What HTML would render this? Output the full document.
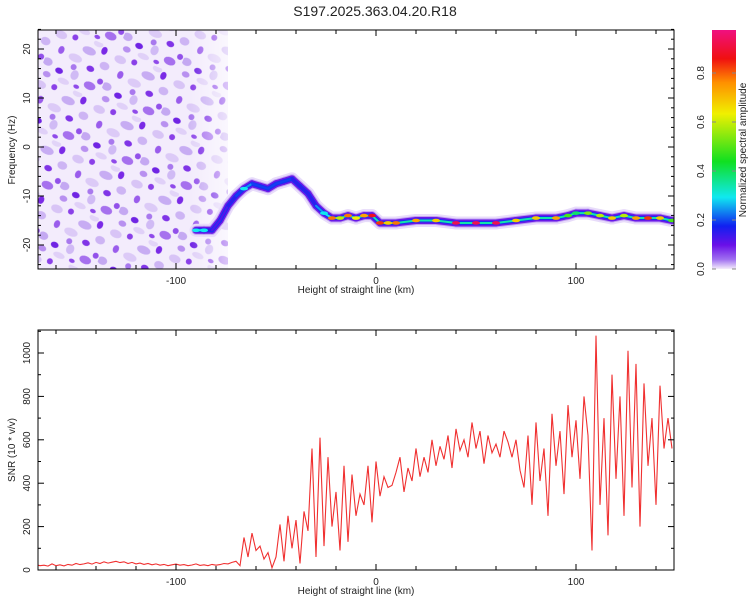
<!DOCTYPE html>
<html><head><meta charset="utf-8">
<style>
body{margin:0;background:#fff;font-family:"Liberation Sans",sans-serif;}
svg text{font-family:"Liberation Sans",sans-serif;fill:#222;}
</style></head>
<body>
<svg id="s" width="750" height="600" viewBox="0 0 750 600">
<defs>
<linearGradient id="cb" x1="0" y1="1" x2="0" y2="0">
<stop offset="0" stop-color="#f4ecfb"/><stop offset="0.04" stop-color="#a070f0"/>
<stop offset="0.1" stop-color="#6a10e8"/><stop offset="0.18" stop-color="#1020f0"/>
<stop offset="0.3" stop-color="#10e8f0"/><stop offset="0.45" stop-color="#10e020"/>
<stop offset="0.65" stop-color="#f0f000"/><stop offset="0.78" stop-color="#ff9000"/>
<stop offset="0.88" stop-color="#f01010"/><stop offset="1" stop-color="#f01080"/>
</linearGradient>
<pattern id="noise" width="64" height="54" patternUnits="userSpaceOnUse" patternTransform="rotate(23)">
<rect width="64" height="54" fill="#f3ecfc"/>
<ellipse cx="6" cy="8" rx="6" ry="4" fill="#d8c4f6"/><ellipse cx="20" cy="5" rx="3" ry="3" fill="#8a40e8"/>
<ellipse cx="38" cy="12" rx="7" ry="4" fill="#c7acf3"/><ellipse cx="52" cy="6" rx="3" ry="4" fill="#7a2ae6"/>
<ellipse cx="12" cy="22" rx="3" ry="4" fill="#9a5cec"/><ellipse cx="28" cy="24" rx="7" ry="4" fill="#dccaf7"/>
<ellipse cx="46" cy="28" rx="4" ry="3" fill="#8034e7"/><ellipse cx="58" cy="20" rx="5" ry="4" fill="#cdb4f4"/>
<ellipse cx="4" cy="38" rx="5" ry="4" fill="#c4a8f2"/><ellipse cx="18" cy="42" rx="4" ry="3" fill="#7024e4"/>
<ellipse cx="34" cy="40" rx="4" ry="5" fill="#d0baf5"/><ellipse cx="52" cy="44" rx="6" ry="4" fill="#a670ee"/>
<ellipse cx="26" cy="50" rx="6" ry="3" fill="#e0d0f8"/><ellipse cx="44" cy="2" rx="5" ry="3" fill="#e2d4f8"/>
<ellipse cx="60" cy="36" rx="3" ry="3" fill="#9250ea"/><ellipse cx="30" cy="33" rx="3" ry="3" fill="#a878ee"/>
<ellipse cx="40" cy="50" rx="3" ry="2" fill="#8f4aea"/><ellipse cx="8" cy="50" rx="4" ry="3" fill="#b890f0"/>
</pattern>
<linearGradient id="fade" x1="0" y1="0" x2="1" y2="0">
<stop offset="0" stop-color="#fff" stop-opacity="0"/><stop offset="0.8" stop-color="#fff" stop-opacity="0"/><stop offset="1" stop-color="#fff" stop-opacity="0.6"/>
</linearGradient>
<clipPath id="c1"><rect x="38" y="30" width="636" height="239"/></clipPath>
<clipPath id="c2"><rect x="38" y="330" width="636" height="240"/></clipPath>
</defs>
<text x="375" y="16" font-size="14" text-anchor="middle">S197.2025.363.04.20.R18</text>
<g id="top">
<g clip-path="url(#c1)" id="specmarks">
<rect x="38" y="30" width="190" height="239" fill="url(#noise)"/>
<rect x="38" y="30" width="190" height="239" fill="url(#fade)"/>
</g>
<rect x="38" y="30" width="636" height="239" fill="none" stroke="#000"/>
</g>
<g>
<g clip-path="url(#c2)" id="snrmarks"></g>
<rect x="38" y="330" width="636" height="240" fill="none" stroke="#000"/>
</g>
<rect x="712" y="30" width="24" height="239" fill="url(#cb)"/>
<text transform="translate(746,150) rotate(-90)" font-size="10" text-anchor="middle">Normalized spectral amplitude</text>
<g id="axes"></g>
</svg>
<script>
// ---- data ----
const xTicks=[-100,0,100];
const freqTicks=[-20,-10,0,10,20];
const snrTicks=[0,200,400,600,800,1000];
const cbTicks=[0.0,0.2,0.4,0.6,0.8];
const ridgeHeight=[-90,-86,-82,-78,-74,-70,-66,-62,-58,-54,-50,-46,-42,-38,-34,-30,-26,-22,-18,-14,-10,-6,-2,2,6,10,20,30,40,50,60,70,80,90,96,100,106,112,118,124,130,136,142,148];
const ridgeFreq=[-17,-17,-17,-15,-12,-10,-8.5,-7.5,-8,-8.5,-7.5,-7,-6.5,-8,-9.5,-12,-13.5,-14.5,-14.5,-14,-14.5,-14,-14,-15.5,-15.5,-15.5,-15,-15,-15.5,-15.5,-15.5,-15,-14.5,-14.5,-14,-13.5,-13.5,-14,-14.5,-14,-14.5,-14.5,-14.5,-15];
const ridgeAmp=[0.3,0.3,0.15,0.12,0.15,0.2,0.3,0.25,0.2,0.2,0.25,0.2,0.2,0.15,0.15,0.25,0.3,0.8,0.6,0.8,0.65,0.75,0.9,0.85,0.7,0.8,0.75,0.7,0.95,0.95,0.95,0.7,0.7,0.75,0.5,0.4,0.55,0.6,0.7,0.6,0.75,0.85,0.7,0.5];
const snrStart=-170, snrStep=2;
const snrValues=[25,20,22,18,28,20,24,19,26,22,30,25,28,33,27,35,30,38,32,36,40,34,38,30,35,28,32,26,30,24,28,22,26,20,24,27,22,25,20,23,28,21,24,20,26,22,25,30,28,35,
40,20,150,60,170,90,110,50,80,10,60,210,40,250,100,230,30,270,180,560,60,610,110,520,200,360,90,480,130,440,250,350,300,480,220,500,340,430,380,390,
450,520,360,470,410,560,430,520,450,600,480,570,510,620,470,650,550,600,520,680,560,640,490,620,540,580,520,640,590,520,
600,460,380,620,300,680,410,560,250,720,480,640,350,760,520,690,420,800,
620,90,1080,300,700,160,900,420,800,250,1010,380,950,200,860,480,700,300,850,560,700,560];
// ---- scales ----
const X=h=>376+h*2;
const YF=f=>147-f*4.9;
const YS=v=>570-v*0.217;
const YC=v=>269-v*245;
const NS="http://www.w3.org/2000/svg";
function mk(t,a,p){const e=document.createElementNS(NS,t);for(const k in a)e.setAttribute(k,a[k]);p.appendChild(e);return e;}
function col(a){const st=[[0,[240,230,250]],[0.05,[160,112,240]],[0.1,[106,16,232]],[0.18,[16,32,240]],[0.3,[16,232,240]],[0.45,[16,224,32]],[0.65,[240,240,0]],[0.78,[255,144,0]],[0.88,[240,16,16]],[1,[240,16,128]]];
for(let i=1;i<st.length;i++){if(a<=st[i][0]){const t=(a-st[i-1][0])/(st[i][0]-st[i-1][0]);const c=st[i-1][1].map((v,j)=>Math.round(v+(st[i][1][j]-v)*t));return`rgb(${c})`;}}return"rgb(240,16,128)";}
// spectrogram ridge
const sp=document.getElementById('specmarks');
const layers=[['#e8dcfa',13],['#c0a0f2',9],['#6a18e8',7],['#1830f0',4],[null,2]];
layers.forEach(([c0,w])=>{
 for(let i=1;i<ridgeHeight.length;i++){
  const a=Math.min(ridgeAmp[i],ridgeAmp[i-1]);
  const c=c0||col(Math.min(a,0.35));
  const l=mk('line',{x1:X(ridgeHeight[i-1]),y1:YF(ridgeFreq[i-1]),x2:X(ridgeHeight[i]),y2:YF(ridgeFreq[i]),stroke:c,'stroke-width':w,'stroke-linecap':'round'},sp);
  
  
 }});
for(let i=0;i<ridgeHeight.length;i++){
 if(ridgeAmp[i]<0.3)continue;
 const e=mk('ellipse',{cx:X(ridgeHeight[i]),cy:YF(ridgeFreq[i]),rx:4,ry:1.8,fill:col(ridgeAmp[i])},sp);
 
 
}
// SNR line
const sn=document.getElementById('snrmarks');
const pts=snrValues.map((v,i)=>X(snrStart+i*snrStep).toFixed(1)+','+YS(v).toFixed(1)).join(' ');
const pl=mk('polyline',{points:pts,fill:'none',stroke:'#f03030','stroke-width':1.1},sn);


// axes
const ax=document.getElementById('axes');
function txt(x,y,s,a,rot){const t=mk('text',{x:x,y:y,'font-size':10,'text-anchor':a||'middle'},ax);if(rot)t.setAttribute('transform',`rotate(-90,${x},${y})`);t.textContent=s;return t;}
[[30,269],[330,570]].forEach(([t,b],pi)=>{
 for(let h=-160;h<=140;h+=20){const x=X(h);const L=h%100==0?6:4;mk('line',{x1:x,x2:x,y1:b,y2:b-L,stroke:'#000'},ax);mk('line',{x1:x,x2:x,y1:t,y2:t+L,stroke:'#000'},ax);}
 xTicks.forEach(h=>{const e=txt(X(h),b+15,String(h));});
 const e=txt(356,b+24,'Height of straight line (km)');
});
for(let f=-24;f<=24;f+=2){const y=YF(f);const L=f%10==0?6:3;mk('line',{x1:38,x2:38+L,y1:y,y2:y,stroke:'#000'},ax);mk('line',{x1:674,x2:674-L,y1:y,y2:y,stroke:'#000'},ax);}
freqTicks.forEach(f=>{const e=txt(30,YF(f),String(f),'middle',true);});
let e1=txt(15,150,'Frequency (Hz)','middle',true);
for(let v=0;v<=1100;v+=100){const y=YS(v);const L=v%200==0?6:3;mk('line',{x1:38,x2:38+L,y1:y,y2:y,stroke:'#000'},ax);mk('line',{x1:674,x2:674-L,y1:y,y2:y,stroke:'#000'},ax);}
snrTicks.forEach(v=>{const e=txt(30,YS(v),String(v),'middle',true);});
let e2=txt(15,450,'SNR (10 * v/v)','middle',true);
cbTicks.forEach(v=>{const y=YC(v);mk('line',{x1:712,x2:716,y1:y,y2:y,stroke:'#888'},ax);mk('line',{x1:732,x2:736,y1:y,y2:y,stroke:'#888'},ax);const e=txt(704,y,v.toFixed(1),'middle',true);});
</script>
</body></html>
